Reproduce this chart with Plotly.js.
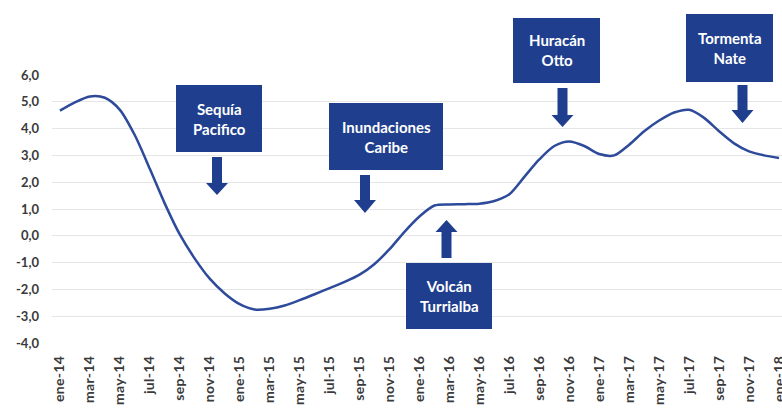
<!DOCTYPE html>
<html>
<head>
<meta charset="utf-8">
<script src="https://cdn.plot.ly/plotly-3.0.1.min.js"></script>
<style>
html,body{margin:0;padding:0;background:#fff;}
#chart{width:782px;height:409px;}
#chart .xtick text{letter-spacing:0.3px;}
</style>
</head>
<body>
<div id="chart"></div>
<script>
const categories = ['ene-14','feb-14','mar-14','abr-14','may-14','jun-14','jul-14','ago-14','sep-14','oct-14','nov-14','dic-14',
  'ene-15','feb-15','mar-15','abr-15','may-15','jun-15','jul-15','ago-15','sep-15','oct-15','nov-15','dic-15',
  'ene-16','feb-16','mar-16','abr-16','may-16','jun-16','jul-16','ago-16','sep-16','oct-16','nov-16','dic-16',
  'ene-17','feb-17','mar-17','abr-17','may-17','jun-17','jul-17','ago-17','sep-17','oct-17','nov-17','dic-17',
  'ene-18'];
const values = [4.67, 4.98, 5.2, 5.15, 4.7, 3.75, 2.5, 1.2, 0.05, -0.85, -1.6, -2.15,
  -2.55, -2.75, -2.72, -2.6, -2.4, -2.18, -1.95, -1.72, -1.45, -1.05, -0.5, 0.15,
  0.72, 1.13, 1.17, 1.18, 1.2, 1.3, 1.55, 2.2, 2.85, 3.35, 3.52, 3.35,
  3.05, 3.0, 3.4, 3.9, 4.3, 4.6, 4.7, 4.4, 3.9, 3.45, 3.15, 3.0,
  2.9];
const yTickValues = [-4, -3, -2, -1, 0, 1, 2, 3, 4, 5, 6];
const yTickLabels = ['-4,0', '-3,0', '-2,0', '-1,0', '0,0', '1,0', '2,0', '3,0', '4,0', '5,0', '6,0'];
const eventLabels = ['Sequía<br>Pacifico', 'Inundaciones<br>Caribe', 'Volcán<br>Turrialba', 'Huracán<br>Otto', 'Tormenta<br>Nate'];

// layout geometry (pixels)
const W = 782, H = 409, L = 52, R = 0, T = 75, B = 66;
const pw = W - L - R, ph = H - T - B;
const fx = p => (p - L) / pw;
const fy = p => (H - B - p) / ph;

const xIdx = categories.map((c, i) => i);
const tickIdx = xIdx.filter(i => i % 2 === 0);

const boxColor = '#1f3f8e';
const boxes = [ // x0, x1, y0, y1 in px
  [176, 262, 85, 152],
  [329, 443, 103, 170],
  [406, 492, 263, 329],
  [513, 600, 18, 83],
  [686, 773, 14, 82]
];
const arrows = [ // cx, shaft base, head start, tip
  [217, 157, 183, 195],
  [365, 175, 200, 213],
  [446.5, 258, 232, 220],
  [562.5, 88, 115, 127],
  [742.5, 85, 110, 123]
];

const shapes = [];
const annotations = [];
boxes.forEach((b, k) => {
  shapes.push({type: 'rect', xref: 'paper', yref: 'paper', x0: fx(b[0]), x1: fx(b[1]), y0: fy(b[3]), y1: fy(b[2]),
    fillcolor: boxColor, line: {width: 0}, layer: 'above'});
  annotations.push({xref: 'paper', yref: 'paper', x: fx((b[0] + b[1]) / 2), y: fy((b[2] + b[3]) / 2),
    xanchor: 'center', yanchor: 'middle', showarrow: false, text: eventLabels[k], align: 'center',
    font: {family: 'Lato, sans-serif', size: 15, color: '#ffffff', weight: 'bold'}});
});
arrows.forEach(a => {
  const [cx, s, h, t] = a;
  const sw = 5, hw = 11;
  const pts = [[cx - sw, s], [cx + sw, s], [cx + sw, h], [cx + hw, h], [cx, t], [cx - hw, h], [cx - sw, h]];
  const path = 'M' + pts.map(p => fx(p[0]) + ',' + fy(p[1])).join(' L') + ' Z';
  shapes.push({type: 'path', xref: 'paper', yref: 'paper', path: path, fillcolor: boxColor, line: {width: 0}, layer: 'above'});
});

const trace = {
  x: xIdx, y: values, type: 'scatter', mode: 'lines',
  line: {color: '#2d4a9b', width: 2.5, shape: 'spline', smoothing: 0.8},
  hoverinfo: 'skip'
};

const layout = {
  width: W, height: H,
  margin: {l: L, r: R, t: T, b: B, pad: 0},
  paper_bgcolor: '#ffffff', plot_bgcolor: '#ffffff',
  showlegend: false,
  font: {family: 'Lato, sans-serif'},
  xaxis: {
    range: [-0.53, 48.2], tickmode: 'array', tickvals: tickIdx, ticktext: tickIdx.map(i => categories[i]),
    tickangle: -90, showgrid: false, zeroline: false, showline: false, ticks: '',
    ticklabelstandoff: 9, ticklabeloverflow: 'allow',
    tickfont: {family: 'Lato, sans-serif', size: 14, color: '#3a3a3a', weight: 'bold'}
  },
  yaxis: {
    range: [-4, 6], tickmode: 'array', tickvals: yTickValues, ticktext: yTickLabels,
    showgrid: true, gridcolor: '#e6e6e6', gridwidth: 1, zeroline: false, showline: false, ticks: '',
    ticklabelstandoff: 12,
    tickfont: {family: 'Lato, sans-serif', size: 13, color: '#3a3a3a', weight: 'bold'}
  },
  shapes: shapes,
  annotations: annotations
};

Plotly.newPlot('chart', [trace], layout, {displayModeBar: false, staticPlot: true});
</script>
</body>
</html>
